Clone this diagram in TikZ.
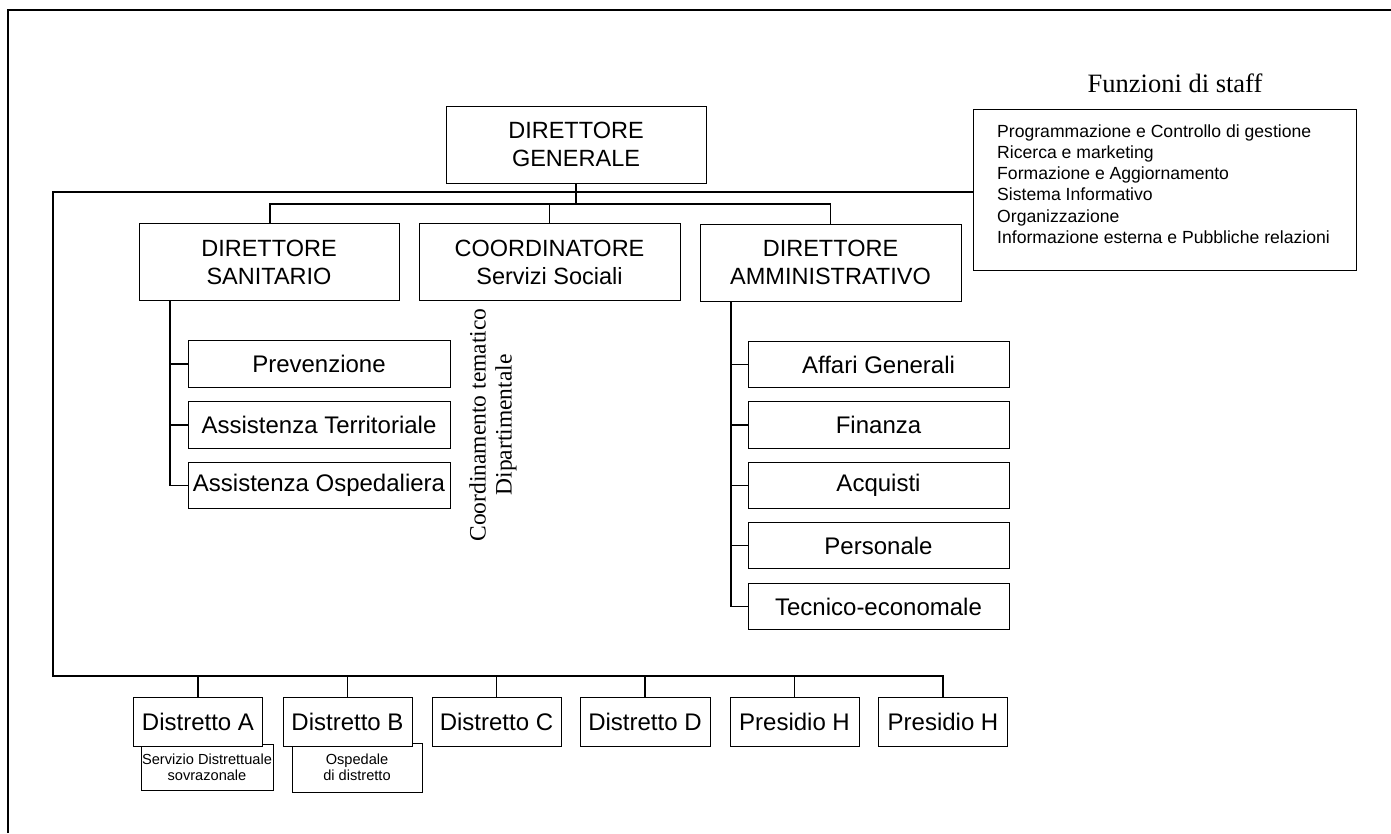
\documentclass[tikz,border=0pt]{standalone}
\usepackage{fontspec}
\setmainfont{Liberation Serif}
\setsansfont{Liberation Sans}
\begin{document}
\begin{tikzpicture}[x=1pt,y=-1pt,
  box/.style={draw=black, line width=1pt, fill=white, inner sep=0pt, align=center,
    font=\sffamily\fontsize{23.5}{28}\selectfont},
  head/.style={box, minimum width=260, minimum height=77},
  unit/.style={box, minimum width=262, minimum height=46.5,
    font=\sffamily\fontsize{24}{28}\selectfont},
  dist/.style={box, minimum width=129, minimum height=49,
    font=\sffamily\fontsize{24}{28}\selectfont},
  note/.style={box, minimum width=131, minimum height=46,
    font=\sffamily\fontsize{14.6}{16.5}\selectfont},
  link/.style={draw=black, line width=1.3pt},
]
\useasboundingbox (0,0) rectangle (1391,833);

% page frame
\draw[line width=1.5pt] (8,833) -- (8,10) -- (1391,10);

% top management
\node[head] (dg) at (576,144.5) {DIRETTORE\\GENERALE};
\node[head] (ds) at (269,262) {DIRETTORE\\SANITARIO};
\node[head, minimum width=261] (co) at (549.5,262) {COORDINATORE\\Servizi Sociali};
\node[head, minimum width=261] (da) at (830.5,262.5) {DIRETTORE\\AMMINISTRATIVO};

% staff functions
\node[draw=black, line width=1pt, minimum width=383, minimum height=161, inner sep=0pt]
  (staff) at (1164.5,189.5) {};
\node[font=\fontsize{26.5}{30}\selectfont, inner sep=0pt] (stafftitle) at (1175,83) {Funzioni di staff};
\node[anchor=west, align=left, inner sep=0pt, font=\sffamily\fontsize{17.6}{21.2}\selectfont]
  (stafflist) at (997,184) {Programmazione e Controllo di gestione\\
  Ricerca e marketing\\
  Formazione e Aggiornamento\\
  Sistema Informativo\\
  Organizzazione\\
  Informazione esterna e Pubbliche relazioni};

% health units
\node[unit] (san1) at (319,364) {Prevenzione};
\node[unit] (san2) at (319,425) {Assistenza Territoriale};
\node[unit] (san3) at (319,485.5) {Assistenza Ospedaliera};

% administrative units
\node[unit, minimum width=261] (adm1) at (878.5,364.5) {Affari Generali};
\node[unit, minimum width=261] (adm2) at (878.5,425) {Finanza};
\node[unit, minimum width=261] (adm3) at (878.5,485.5) {Acquisti};
\node[unit, minimum width=261] (adm4) at (878.5,545.5) {Personale};
\node[unit, minimum width=261] (adm5) at (878.5,606.5) {Tecnico-economale};

% departmental coordination label
\node[rotate=90, align=center, inner sep=0pt, font=\fontsize{23.5}{26}\selectfont]
  (coord) at (493,425) {Coordinamento tematico\\Dipartimentale};

% district notes (drawn below the district boxes)
\node[note, minimum width=132] (noteA) at (207,767.5) {Servizio Distrettuale\\sovrazonale};
\node[note, minimum width=130, minimum height=49] (noteB) at (357,767.5) {Ospedale\\di distretto};

% districts and hospitals
\node[dist] (dA) at (198,721.5) {Distretto A};
\node[dist] (dB) at (347.5,721.5) {Distretto B};
\node[dist] (dC) at (496.5,721.5) {Distretto C};
\node[dist, minimum width=130] (dD) at (645,721.5) {Distretto D};
\node[dist] (pH1) at (794.5,721.5) {Presidio H};
\node[dist] (pH2) at (943,721.5) {Presidio H};

% line management bus
\coordinate (bus) at (576,204);
\draw[link] (dg.south) -- (bus);
\draw[link] ([xshift=1pt]ds.north) |- (bus) -| (da.north);
\draw[link] (co.north) -- (co.north |- bus);

% staff line and territorial bus
\coordinate (staffcorner) at (53,192);
\coordinate (lowcorner) at (53,676);
\draw[link] (staffcorner -| staff.west) -- (staffcorner) -- (lowcorner) -| (pH2.north);
\foreach \d in {dA,dB,dC,dD,pH1}
  \draw[link] (\d.north) -- (\d.north |- lowcorner);

% health spine
\draw[link] ([xshift=-99pt]ds.south) |- (san3.west);
\draw[link] (san1.west) -- ++(-18,0);
\draw[link] (san2.west) -- ++(-18,0);

% administrative spine
\draw[link] ([xshift=-99.5pt]da.south) |- (adm5.west);
\foreach \u in {adm1,adm2,adm3,adm4}
  \draw[link] (\u.west) -- ++(-17,0);
\end{tikzpicture}
\end{document}
